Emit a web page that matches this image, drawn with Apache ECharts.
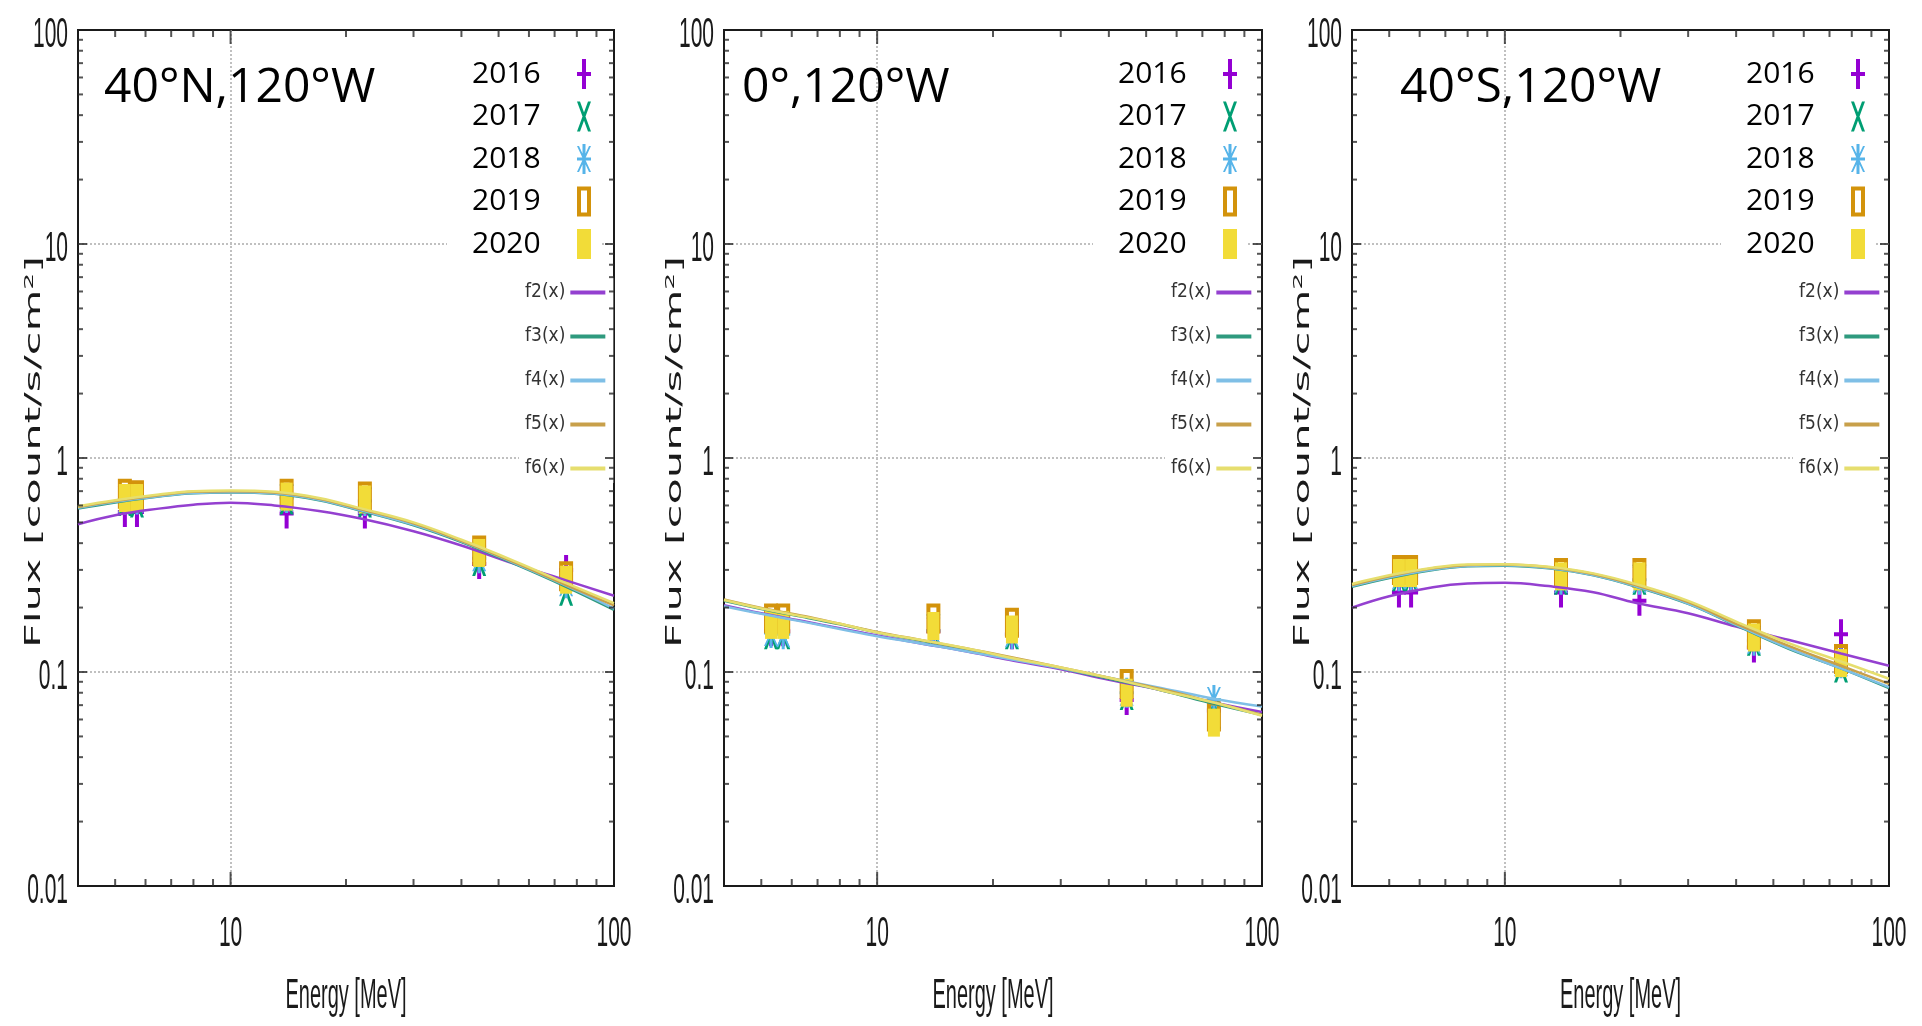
<!DOCTYPE html>
<html><head><meta charset="utf-8">
<script src="https://cdn.jsdelivr.net/npm/echarts@6/dist/echarts.min.js"></script>
<style>html,body{margin:0;padding:0;background:#fff}#c{width:1922px;height:1026px}</style>
</head><body><div id="c"></div>
<script>
// ---------------- DATA ----------------
const panelTitles = ['40°N,120°W', '0°,120°W', '40°S,120°W'];
const years = ['2016', '2017', '2018', '2019', '2020'];
const fitNames = ['f2(x)', 'f3(x)', 'f4(x)', 'f5(x)', 'f6(x)'];
const xAxisTitle = 'Energy [MeV]';

// measured energies [MeV]
const energies = [5.3, 5.7, 14, 22.4, 44.5, 75];

// Panel 1: 40N,120W  flux [count/s/cm2]
const p1_2016 = [0.56, 0.56, 0.55, 0.55, 0.32, 0.30];
const p1_2017 = [0.63, 0.62, 0.64, 0.62, 0.33, 0.24];
const p1_2018 = [0.64, 0.64, 0.65, 0.63, 0.34, 0.26];
const p1_2019 = [0.68, 0.67, 0.68, 0.66, 0.37, 0.28];
const p1_2020 = [0.65, 0.65, 0.66, 0.64, 0.36, 0.27];
// Panel 2: 0,120W
const p2_2016 = [0.155, 0.155, 0.155, 0.150, 0.074, 0.066];
const p2_2017 = [0.150, 0.150, 0.158, 0.150, 0.078, 0.064];
const p2_2018 = [0.152, 0.150, 0.156, 0.150, 0.080, 0.074];
const p2_2019 = [0.178, 0.178, 0.178, 0.170, 0.088, 0.062];
const p2_2020 = [0.166, 0.166, 0.164, 0.158, 0.080, 0.058];
// Panel 3: 40S,120W
const p3_2016 = [0.235, 0.235, 0.235, 0.215, 0.130, 0.150];
const p3_2017 = [0.280, 0.280, 0.270, 0.270, 0.140, 0.105];
const p3_2018 = [0.280, 0.280, 0.270, 0.270, 0.140, 0.110];
const p3_2019 = [0.300, 0.300, 0.290, 0.290, 0.150, 0.115];
const p3_2020 = [0.290, 0.290, 0.280, 0.280, 0.145, 0.110];

// fitted curves, read at these energies
const curveEnergies = [4, 5, 6.5, 8, 10, 13, 17, 22, 30, 40, 55, 75, 100];
const p1_f2 = [0.490, 0.540, 0.580, 0.605, 0.618, 0.600, 0.565, 0.520, 0.455, 0.390, 0.320, 0.268, 0.227];
const p1_f3 = [0.580, 0.620, 0.660, 0.685, 0.690, 0.680, 0.635, 0.565, 0.485, 0.405, 0.320, 0.250, 0.195];
const p1_f4 = [0.585, 0.625, 0.663, 0.687, 0.692, 0.682, 0.638, 0.568, 0.488, 0.408, 0.323, 0.253, 0.198];
const p1_f5 = [0.590, 0.630, 0.670, 0.695, 0.700, 0.690, 0.645, 0.575, 0.495, 0.410, 0.325, 0.255, 0.205];
const p1_f6 = [0.595, 0.635, 0.675, 0.700, 0.705, 0.695, 0.650, 0.580, 0.500, 0.415, 0.330, 0.260, 0.210];

const p2_f2 = [0.205, 0.188, 0.172, 0.160, 0.148, 0.136, 0.125, 0.114, 0.103, 0.092, 0.082, 0.072, 0.065];
const p2_f3 = [0.215, 0.197, 0.180, 0.167, 0.153, 0.140, 0.128, 0.117, 0.104, 0.093, 0.082, 0.071, 0.063];
const p2_f4 = [0.203, 0.187, 0.171, 0.159, 0.147, 0.136, 0.125, 0.115, 0.104, 0.094, 0.084, 0.075, 0.069];
const p2_f5 = [0.218, 0.199, 0.182, 0.168, 0.154, 0.141, 0.129, 0.118, 0.105, 0.094, 0.083, 0.072, 0.063];
const p2_f6 = [0.217, 0.198, 0.181, 0.168, 0.153, 0.141, 0.129, 0.117, 0.105, 0.094, 0.082, 0.072, 0.0625];

const p3_f2 = [0.200, 0.226, 0.249, 0.259, 0.261, 0.252, 0.236, 0.210, 0.188, 0.163, 0.141, 0.122, 0.107];
const p3_f3 = [0.250, 0.275, 0.300, 0.312, 0.314, 0.305, 0.283, 0.250, 0.208, 0.165, 0.128, 0.104, 0.084];
const p3_f4 = [0.252, 0.277, 0.301, 0.313, 0.315, 0.306, 0.284, 0.251, 0.209, 0.166, 0.129, 0.104, 0.085];
const p3_f5 = [0.255, 0.280, 0.305, 0.316, 0.318, 0.309, 0.287, 0.254, 0.212, 0.168, 0.132, 0.107, 0.088];
const p3_f6 = [0.258, 0.283, 0.307, 0.318, 0.319, 0.310, 0.289, 0.257, 0.215, 0.172, 0.136, 0.112, 0.093];

// axis ticks
const xTickValues = [10, 100];
const xTickLabels = ['10', '100'];
const yTickValues = [0.01, 0.1, 1, 10, 100];
const yTickLabels = ['0.01', '0.1', '1', '10', '100'];
const xMajorTicks = [10];
const xMinorTicks = [5, 6, 7, 8, 9, 20, 30, 40, 50, 60, 70, 80, 90];
const yMajorTicks = [0.1, 1, 10];
const yMinorTicks = [0.02, 0.03, 0.04, 0.05, 0.06, 0.07, 0.08, 0.09,
                     0.2, 0.3, 0.4, 0.5, 0.6, 0.7, 0.8, 0.9,
                     2, 3, 4, 5, 6, 7, 8, 9,
                     20, 30, 40, 50, 60, 70, 80, 90];

// ---------------- STYLE / LAYOUT ----------------
const X_MIN = 4, X_MAX = 100, Y_MIN = 0.01, Y_MAX = 100;
const panelData = [
  { pts: [p1_2016, p1_2017, p1_2018, p1_2019, p1_2020], fits: [p1_f2, p1_f3, p1_f4, p1_f5, p1_f6] },
  { pts: [p2_2016, p2_2017, p2_2018, p2_2019, p2_2020], fits: [p2_f2, p2_f3, p2_f4, p2_f5, p2_f6] },
  { pts: [p3_2016, p3_2017, p3_2018, p3_2019, p3_2020], fits: [p3_f2, p3_f3, p3_f4, p3_f5, p3_f6] }
];
const gridLefts = [78, 724, 1352];
const gridWidths = [536, 538, 537];
const gridTop = 30, gridHeight = 856;
const titleLefts = [104, 742, 1400];
const yNameOffsets = [43, 48, 48];

const yearColors = ['#9400d3', '#009e73', '#56b4e9', '#d3930b', '#f2dc38'];
const fitColors = ['#9440d0', '#2f9a7e', '#7fbfe6', '#c8a04a', '#e6de6e'];
const yearSymbols = [
  'path://M5,0H9V30H5Z M0,13H14V17H0Z',
  'path://M0,0L3,0L14,30L11,30Z M11,0L14,0L3,30L0,30Z',
  'path://M5.5,0H8.5V30H5.5Z M0,13.5H14V16.5H0Z M0,2L2,2L14,28L12,28Z M12,2L14,2L2,28L0,28Z',
  'path://M0,0H14V30H0Z M4,4V26H10V4Z',
  'rect'
];
const yearSizes = [[14, 30], [14, 30], [14, 30], [14, 30], [12, 28]];

const narrow = "'Liberation Sans Narrow', 'DejaVu Sans Condensed', sans-serif";
const plain = "'Liberation Sans', Arimo, sans-serif";

// tick marks as tiny rect symbols anchored on the axes
const tickColor = '#2a2a2a';
function tickItems() {
  const items = [];
  const add = (v, sz, off) => items.push({ value: v, symbolSize: sz, symbolOffset: off });
  xMinorTicks.forEach(v => { add([v, Y_MIN], [2, 7], [0, -3.5]); add([v, Y_MAX], [2, 7], [0, 3.5]); });
  xMajorTicks.forEach(v => { add([v, Y_MIN], [2, 14], [0, -7]); add([v, Y_MAX], [2, 14], [0, 7]); });
  yMinorTicks.forEach(v => { add([X_MIN, v], [5, 2], [2.5, 0]); add([X_MAX, v], [5, 2], [-2.5, 0]); });
  yMajorTicks.forEach(v => { add([X_MIN, v], [9, 2], [4.5, 0]); add([X_MAX, v], [9, 2], [-4.5, 0]); });
  return items;
}

// tick labels (stretched text, like the reference) placed through the axis scale
function labelRender(params, api) {
  const kind = api.value(2), idx = api.value(3);
  const common = { fontSize: 21, fontFamily: plain, fill: '#1a1a1a', x: 0, y: 0 };
  if (kind === 0) {
    const a = api.coord([api.value(0), Y_MIN]);
    return { type: 'text', x: a[0], y: a[1] + 48, scaleY: 2.05,
      style: Object.assign({ text: xTickLabels[idx], align: 'center', verticalAlign: 'middle' }, common) };
  }
  const b = api.coord([X_MIN, api.value(1)]);
  return { type: 'text', x: b[0] - 10, y: b[1] + 5, scaleY: 2.05,
    style: Object.assign({ text: yTickLabels[idx], align: 'right', verticalAlign: 'middle' }, common) };
}
const labelData = [].concat(
  xTickValues.map((v, i) => [v, Y_MIN, 0, i]),
  yTickValues.map((v, i) => [X_MIN, v, 1, i])
);

const grids = [], xAxes = [], yAxes = [], series = [], titles = [], legends = [], graphics = [];
for (let p = 0; p < 3; p++) {
  const gl = gridLefts[p], gw = gridWidths[p];
  grids.push({ left: gl, top: gridTop, width: gw, height: gridHeight,
    show: true, borderColor: '#1a1a1a', borderWidth: 2, backgroundColor: 'transparent',
    containLabel: false, outerBoundsMode: 'none' });
  const split = { show: true, showMinLine: false, showMaxLine: false,
    lineStyle: { type: [2, 2], color: '#c0c0c0', width: 2 } };
  xAxes.push({ type: 'log', logBase: 10, gridIndex: p, min: X_MIN, max: X_MAX,
    axisLine: { show: true, lineStyle: { color: '#1a1a1a', width: 2 } },
    axisTick: { show: false }, axisLabel: { show: false }, splitLine: split });
  yAxes.push({ type: 'log', logBase: 10, gridIndex: p, min: Y_MIN, max: Y_MAX,
    axisLine: { show: true, lineStyle: { color: '#1a1a1a', width: 2 } },
    axisTick: { show: false }, axisLabel: { show: false }, splitLine: split });

  titles.push({ text: panelTitles[p], left: titleLefts[p], top: 63, padding: 0,
    textStyle: { fontFamily: "'Open Sans', 'Noto Sans', sans-serif", fontSize: 48, fontWeight: 'normal', color: '#000', lineHeight: 50 } });

  legends.push({ orient: 'vertical', data: years, left: gl + 369, top: 54,
    padding: [5, 10, 5, 25], align: 'right', itemWidth: 14, itemHeight: 30, itemGap: 12.5,
    symbolKeepAspect: false, backgroundColor: '#fff', selectedMode: false,
    formatter: n => '{t|' + n + '}',
    textStyle: { rich: { t: { width: 100, align: 'left', fontFamily: "'Open Sans', 'Noto Sans', sans-serif", fontSize: 30, color: '#000', lineHeight: 30 } } } });
  legends.push({ orient: 'vertical', data: fitNames, left: gl + 441, top: 278,
    padding: [5, 8, 5, 6], align: 'right', itemWidth: 35, itemHeight: 4, itemGap: 25,
    icon: 'rect', backgroundColor: '#fff', selectedMode: false,
    formatter: n => '{t|' + n + '}',
    textStyle: { rich: { t: { width: 34, align: 'right', fontFamily: narrow, fontSize: 19, color: '#333', lineHeight: 22 } } } });

  // axis titles (stretched like the reference)
  graphics.push({ type: 'text', x: gl + gw / 2, y: 996, scaleY: 2.1, z: 10,
    style: { text: xAxisTitle, x: 0, y: 0, align: 'center', verticalAlign: 'middle',
      fontSize: 20, fontFamily: plain, fill: '#1a1a1a' } });
  graphics.push({ type: 'text', x: gl - yNameOffsets[p], y: 452, rotation: Math.PI / 2, scaleX: 2.05, z: 10,
    style: { text: '{a|Flux [count/s/cm}{s|2}{a|]}', x: 0, y: 0, align: 'center', verticalAlign: 'middle',
      rich: { a: { fontSize: 21, fontFamily: 'DejaVu Sans', fill: '#1a1a1a', lineHeight: 24 },
              s: { fontSize: 13, fontFamily: 'DejaVu Sans', fill: '#1a1a1a', verticalAlign: 'top', lineHeight: 24 } } } });

  const pd = panelData[p];
  for (let k = 0; k < 5; k++) {
    series.push({ type: 'scatter', name: years[k], xAxisIndex: p, yAxisIndex: p,
      symbol: yearSymbols[k], symbolSize: yearSizes[k], z: 2, silent: true,
      itemStyle: { color: yearColors[k], opacity: 1 },
      data: energies.map((e, i) => [e, pd.pts[k][i]]) });
  }
  for (let k = 0; k < 5; k++) {
    series.push({ type: 'line', name: fitNames[k], xAxisIndex: p, yAxisIndex: p,
      smooth: 0.4, showSymbol: false, symbol: 'none', z: 3, silent: true,
      lineStyle: { color: fitColors[k], width: 2.5 }, itemStyle: { color: fitColors[k] },
      data: curveEnergies.map((e, i) => [e, pd.fits[k][i]]) });
  }
  series.push({ type: 'scatter', xAxisIndex: p, yAxisIndex: p, silent: true, z: 4, clip: false,
    symbol: 'rect', itemStyle: { color: tickColor }, data: tickItems() });
  series.push({ type: 'custom', xAxisIndex: p, yAxisIndex: p, silent: true, z: 4, clip: false,
    renderItem: labelRender, data: labelData });
}

const chart = echarts.init(document.getElementById('c'), null, { renderer: 'canvas' });
chart.setOption({ animation: false, backgroundColor: '#fff', tooltip: { show: false },
  grid: grids, xAxis: xAxes, yAxis: yAxes, title: titles, legend: legends, graphic: { elements: graphics }, series: series });
</script></body></html>
